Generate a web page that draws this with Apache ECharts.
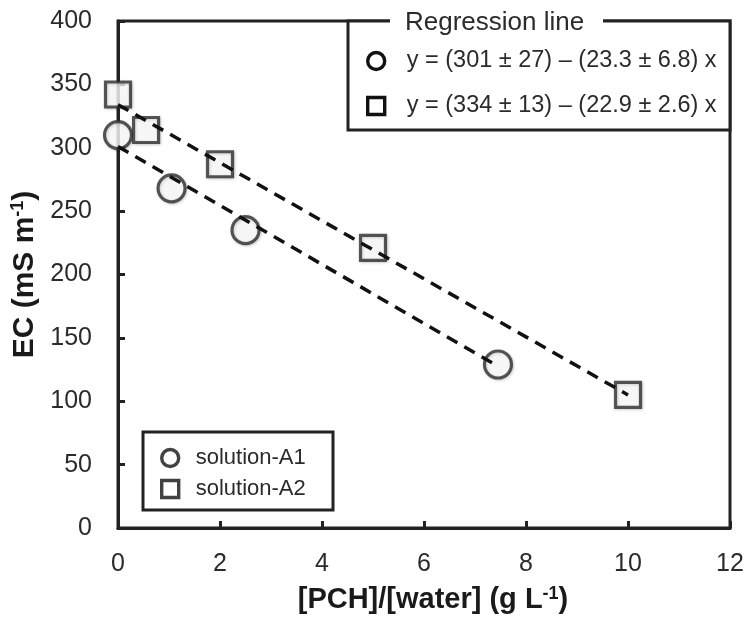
<!DOCTYPE html>
<html>
<head>
<meta charset="utf-8">
<script src="https://cdn.jsdelivr.net/npm/echarts@6/dist/echarts.min.js"></script>
<style>html,body{margin:0;padding:0;background:#fff;}#c{width:747px;height:627px;}</style>
</head>
<body>
<div id="c"></div>
<script>
// Data
var a1X = [0, 1.05, 2.5, 7.45];
var a1Y = [310, 268, 235, 129];
var a2X = [0, 0.55, 2.0, 5.0, 10.0];
var a2Y = [342, 314, 287, 221, 105];
var fitA1X = [0, 7.35];
var fitA1Y = [301, 130];
var fitA2X = [0, 10];
var fitA2Y = [334, 105];
var seriesNames = ['solution-A1', 'solution-A2'];
var fitNames = ['y = (301 \u00b1 27) \u2013 (23.3 \u00b1 6.8) x', 'y = (334 \u00b1 13) \u2013 (22.9 \u00b1 2.6) x'];
var fitTitle = 'Regression line';
var xTicks = [0, 2, 4, 6, 8, 10, 12];
var yTicks = [0, 50, 100, 150, 200, 250, 300, 350, 400];

function pairs(xs, ys) { return xs.map(function (x, i) { return [x, ys[i]]; }); }

var FONT = '"Liberation Sans", Arial, sans-serif';
var INK = '#222';
var markerStyle = {
  color: '#ffffff', borderColor: '#2e2e2e', borderWidth: 3.2,
  shadowBlur: 3, shadowColor: 'rgba(0,0,0,0.22)', shadowOffsetX: 1, shadowOffsetY: 1
};
var legendIconStyle = { color: '#fff', borderColor: '#111', borderWidth: 3.4, shadowBlur: 0, shadowOffsetX: 0, shadowOffsetY: 0, shadowColor: 'transparent' };

var chart = echarts.init(document.getElementById('c'), null, { renderer: 'canvas' });
chart.setOption({
  animation: false,
  backgroundColor: '#fff',
  textStyle: { fontFamily: FONT },
  grid: { left: 118, right: 17, top: 21, bottom: 99, show: true, borderColor: INK, borderWidth: 3, backgroundColor: 'transparent' },
  xAxis: {
    type: 'value', min: xTicks[0], max: xTicks[xTicks.length - 1], interval: 2,
    axisLine: { show: true, lineStyle: { color: INK, width: 3 } },
    axisTick: { show: true, inside: true, length: 7, lineStyle: { color: INK, width: 3 } },
    axisLabel: { color: '#2b2b2b', fontSize: 25, fontFamily: FONT, margin: 24 },
    splitLine: { show: false },
    name: '{b|[PCH]/[water] (g L}{sup|-1}{b|)}',
    nameLocation: 'middle', nameGap: 57,
    nameTextStyle: {
      padding: [0, 0, 0, 18],
      rich: {
        b: { fontSize: 29, fontWeight: 'bold', color: '#1a1a1a', fontFamily: FONT },
        sup: { fontSize: 18, fontWeight: 'bold', color: '#1a1a1a', fontFamily: FONT, verticalAlign: 'top', padding: [0, 0, 12, 0] }
      }
    }
  },
  yAxis: {
    type: 'value', min: yTicks[0], max: yTicks[yTicks.length - 1], interval: 50,
    axisLine: { show: true, lineStyle: { color: INK, width: 3 } },
    axisTick: { show: true, inside: true, length: 7, lineStyle: { color: INK, width: 3 } },
    axisLabel: { color: '#2b2b2b', fontSize: 25, fontFamily: FONT, margin: 26 },
    splitLine: { show: false },
    name: '{b|EC (mS m}{sup|-1}{b|)}',
    nameLocation: 'middle', nameGap: 76,
    nameTextStyle: {
      rich: {
        b: { fontSize: 30, fontWeight: 'bold', color: '#1a1a1a', fontFamily: FONT },
        sup: { fontSize: 18, fontWeight: 'bold', color: '#1a1a1a', fontFamily: FONT, verticalAlign: 'top', padding: [0, 0, 12, 0] }
      }
    }
  },
  legend: [
    {
      orient: 'vertical', left: 160, top: 447, padding: 0, itemWidth: 17, itemHeight: 17, itemGap: 9,
      selectedMode: false,
      textStyle: { fontSize: 22, color: '#2b2b2b', fontFamily: FONT, padding: [0, 0, 0, 12] },
      data: [
        { name: seriesNames[0], icon: 'circle', itemStyle: legendIconStyle },
        { name: seriesNames[1], icon: 'rect', itemStyle: legendIconStyle }
      ]
    },
    {
      orient: 'vertical', left: 366, top: 49, padding: 0, itemWidth: 17, itemHeight: 17, itemGap: 21,
      selectedMode: false,
      textStyle: { fontSize: 23.5, color: '#2b2b2b', fontFamily: FONT, padding: [0, 0, 0, 17] },
      data: [
        { name: fitNames[0], icon: 'circle', itemStyle: legendIconStyle },
        { name: fitNames[1], icon: 'rect', itemStyle: legendIconStyle }
      ]
    }
  ],
  graphic: [
    { type: 'rect', shape: { x: 348, y: 21, width: 382, height: 109 }, style: { fill: '#fff', stroke: INK, lineWidth: 3 }, z: 1 },
    { type: 'rect', shape: { x: 390, y: 8, width: 213, height: 28 }, style: { fill: '#fff', stroke: null }, z: 2 },
    { type: 'text', x: 405, y: 23, style: { text: fitTitle, font: '26px ' + FONT, fill: '#2b2b2b', textVerticalAlign: 'middle', verticalAlign: 'middle' }, z: 3 },
    { type: 'rect', shape: { x: 143, y: 432, width: 190, height: 78 }, style: { fill: '#fff', stroke: INK, lineWidth: 3 }, z: 1 }
  ],
  series: [
    { name: seriesNames[0], type: 'scatter', symbol: 'circle', symbolSize: 27, data: pairs(a1X, a1Y), itemStyle: markerStyle, z: 3 },
    { name: seriesNames[1], type: 'scatter', symbol: 'rect', symbolSize: 25, data: pairs(a2X, a2Y), itemStyle: markerStyle, z: 3 },
    { name: fitNames[0], type: 'line', data: pairs(fitA1X, fitA1Y), showSymbol: false, symbol: 'none', lineStyle: { color: '#111', width: 3.5, type: [12, 8] }, itemStyle: { color: '#111' }, z: 4 },
    { name: fitNames[1], type: 'line', data: pairs(fitA2X, fitA2Y), showSymbol: false, symbol: 'none', lineStyle: { color: '#111', width: 3.5, type: [12, 8] }, itemStyle: { color: '#111' }, z: 4 }
  ]
});
</script>
</body>
</html>
